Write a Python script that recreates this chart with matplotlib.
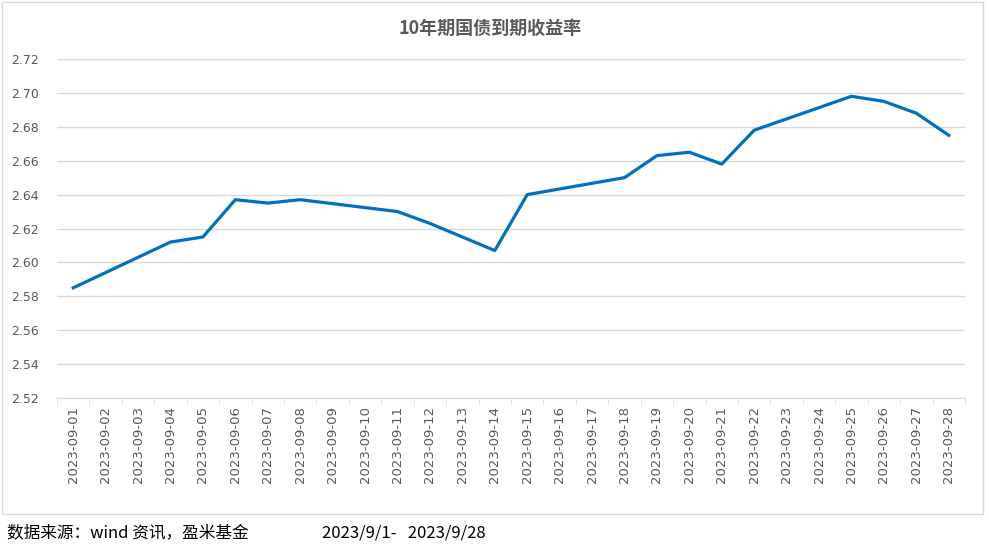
import pandas as pd
import matplotlib.pyplot as plt
import matplotlib.dates as mdates
from matplotlib.patches import Rectangle

plt.rcParams['font.family'] = ['Noto Sans CJK SC', 'DejaVu Sans']

# trading days and 10y yield (%)
dates = ["2023-09-01", "2023-09-04", "2023-09-05", "2023-09-06", "2023-09-07",
         "2023-09-08", "2023-09-11", "2023-09-12", "2023-09-14", "2023-09-15",
         "2023-09-18", "2023-09-19", "2023-09-20", "2023-09-21", "2023-09-22",
         "2023-09-25", "2023-09-26", "2023-09-27", "2023-09-28"]
yields = [2.585, 2.612, 2.615, 2.637, 2.635,
          2.637, 2.630, 2.623, 2.607, 2.640,
          2.650, 2.663, 2.665, 2.658, 2.678,
          2.698, 2.695, 2.688, 2.675]
yticks = [2.52, 2.54, 2.56, 2.58, 2.60, 2.62, 2.64, 2.66, 2.68, 2.70, 2.72]
title = "10年期国债到期收益率"
source = "数据来源：wind 资讯，盈米基金"
period = "2023/9/1-   2023/9/28"

x = pd.to_datetime(dates)
all_days = pd.date_range("2023-09-01", "2023-09-28", freq="D")

W, H = 989, 544
fig = plt.figure(figsize=(W / 100, H / 100), dpi=100)
ax = fig.add_axes([57 / W, 1 - 398 / H, (965 - 57) / W, (398 - 59) / H])

ax.plot(x, yields, color="#0070C0", lw=2.3, solid_joinstyle="round")

ax.set_ylim(2.52, 2.72)
ax.set_yticks(yticks)
ax.set_yticklabels([f"{v:.2f}" for v in yticks], family="DejaVu Sans")
ax.set_xlim(all_days[0] - pd.Timedelta(hours=12), all_days[-1] + pd.Timedelta(hours=12))
ax.set_xticks(all_days)
ax.set_xticklabels([d.strftime("%Y-%m-%d") for d in all_days], family="DejaVu Sans")
ax.set_xticks(list(all_days - pd.Timedelta(hours=12)) + [all_days[-1] + pd.Timedelta(hours=12)], minor=True)

ax.grid(axis="y", color="#d9d9d9", lw=1)
ax.set_axisbelow(True)
for s in ["top", "right", "left"]:
    ax.spines[s].set_visible(False)
ax.spines["bottom"].set_color("#d9d9d9")
ax.tick_params(axis="y", length=0, labelsize=9, labelcolor="#595959", pad=13)
ax.tick_params(axis="x", which="major", length=0, labelsize=9.5, labelcolor="#595959",
               rotation=90, pad=6)
ax.tick_params(axis="x", which="minor", length=4, color="#d9d9d9")

fig.text(490 / W, 1 - 28 / H, title, ha="center", va="center",
         fontsize=13, fontweight="bold", color="#595959")

fig.patches.append(Rectangle((2 / W, 1 - 514 / H), 981 / W, 512 / H,
                             transform=fig.transFigure, fill=False,
                             edgecolor="#d9d9d9", lw=1))

fig.text(7 / W, 1 - 533 / H, source, ha="left", va="center", fontsize=12, color="black")
fig.text(322 / W, 1 - 533 / H, period, ha="left", va="center", fontsize=12, color="black")

fig.savefig("out.png", dpi=100)
